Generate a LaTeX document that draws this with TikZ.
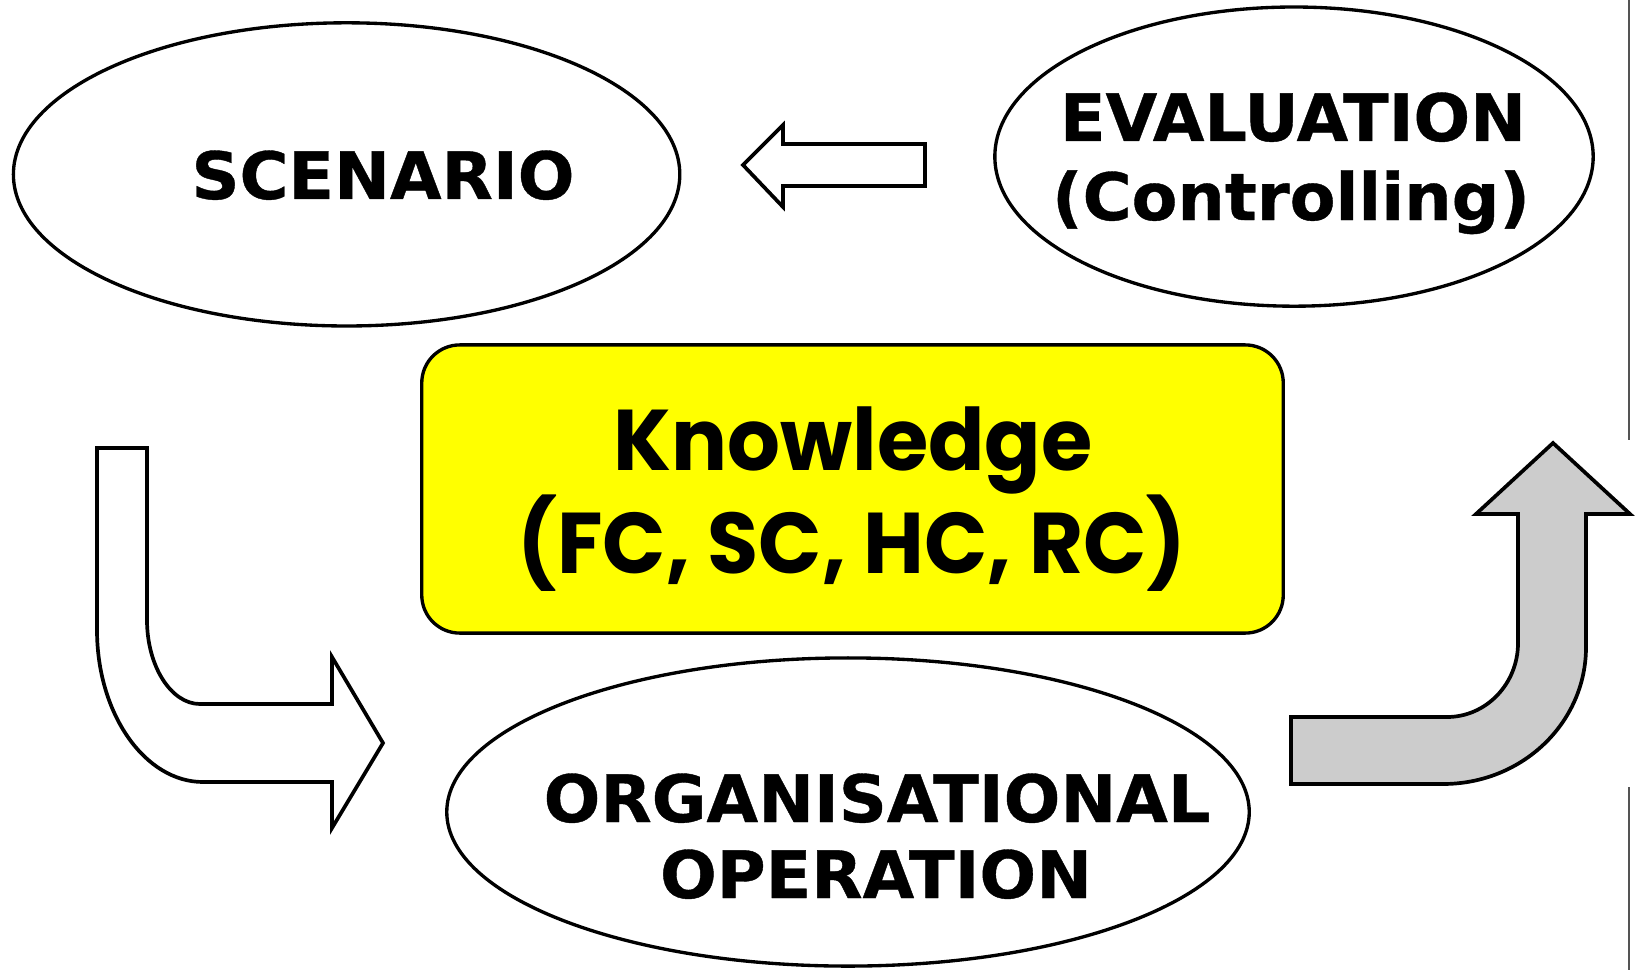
\documentclass[tikz,border=0pt]{standalone}
\usepackage{fontspec}
\setmainfont{DejaVu Sans}[BoldFeatures={FakeBold=0.6, FakeStretch=1.02}]
\newfontfamily\knowfont{Poppins}[BoldFeatures={FakeStretch=0.965}]
\usetikzlibrary{shapes.geometric}
\definecolor{knowyellow}{RGB}{255,255,0}
\definecolor{arrowgray}{RGB}{204,204,204}

\begin{document}
\begin{tikzpicture}[x=0.01cm, y=-0.01cm,
  oval/.style={draw, ellipse, line width=0.95pt, inner sep=0pt},
  lbl/.style={anchor=base, inner sep=0pt, font=\bfseries\fontsize{18.6}{22}\selectfont},
  klbl/.style={anchor=base, inner sep=0pt, font=\knowfont\bfseries\fontsize{24.5}{29}\selectfont},
  blockarrow/.style={draw, line width=1.05pt, line join=miter}]
  \useasboundingbox (0,0) rectangle (1637,970);
  % draw the three ellipses
  \node[oval, minimum width=6.66cm, minimum height=3.03cm] (scen) at (346.6,174.4) {};
  \node[oval, minimum width=5.98cm, minimum height=2.99cm] (eval) at (1294,156.6) {};
  \node[oval, minimum width=8.02cm, minimum height=3.08cm] (orgop) at (848,812) {};
  % rounded knowledge box
  \node[draw, fill=knowyellow, rounded corners=0.38cm, line width=0.95pt, minimum width=8.61cm, minimum height=2.88cm] (know) at (852.5,489) {};
  % texts
  \node[lbl] (scentxt) at (383,199) {SCENARIO};
  \node[lbl] (evaltxt) at (1293,141) {EVALUATION};
  \node[lbl] (ctrltxt) at (1291,220) {(Controlling)};
  \node[lbl] (orgtxt) at (877,822) {ORGANISATIONAL};
  \node[lbl] (optxt) at (876,898) {OPERATION};
  \node[klbl] (knowtxt) at (853,470) {Knowledge};
  \node[klbl] (captxt) at (852,573) {(FC, SC, HC, RC)};
  % block arrows
  \draw[blockarrow, fill=white] (743,165) -- (783,125) -- (783,144) -- (925,144) -- (925,186)
    -- (783,186) -- (783,207) -- cycle;
  \draw[blockarrow, fill=white] (97,448) -- (147,448) -- (147,620)
    .. controls (147,666) and (171,704) .. (200,704) -- (332,704) -- (332,657) -- (383,743)
    -- (332,828) -- (332,782) -- (203,782) .. controls (145,782) and (97,714) .. (97,630) -- cycle;
  \draw[blockarrow, fill=arrowgray] (1291,717) -- (1447,717)
    .. controls (1486,717) and (1518,684) .. (1518,643) -- (1518,514) -- (1476,514) -- (1553,443)
    -- (1630,514) -- (1586,514) -- (1586,647) .. controls (1586,723) and (1522,784) .. (1443,784)
    -- (1291,784) -- cycle;
  % edge marks on the right
  \draw[black!67, line width=0.6pt] (1629,0) -- (1629,440);
  \draw[black!67, line width=0.6pt] (1629,787) -- (1629,970);
\end{tikzpicture}
\end{document}
